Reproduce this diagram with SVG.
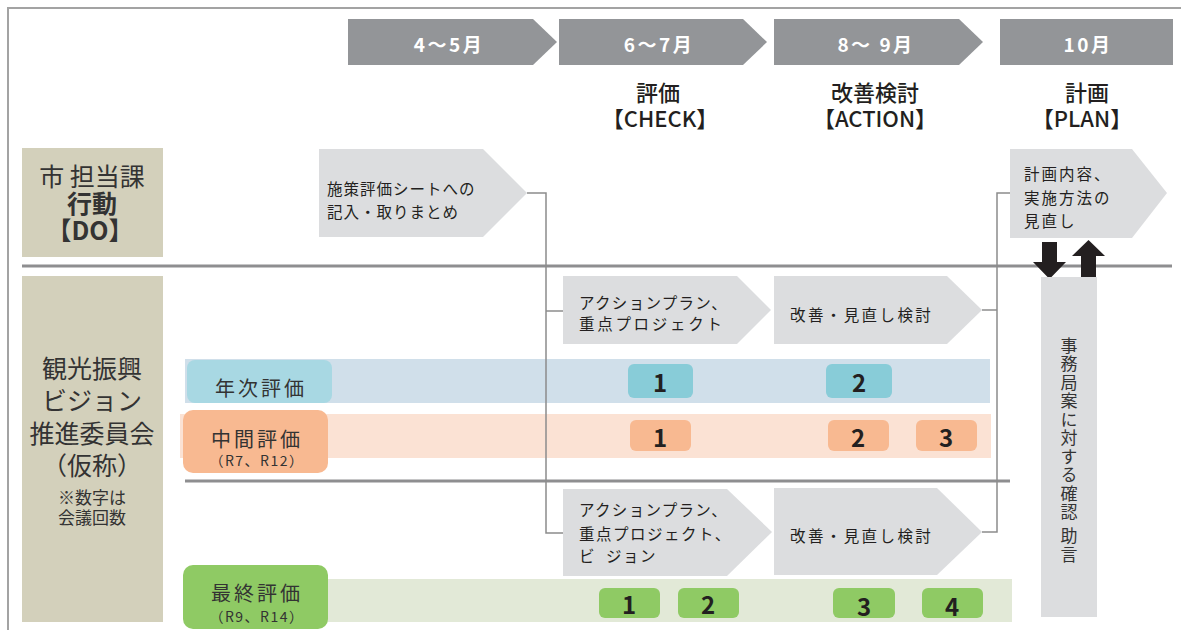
<svg xmlns="http://www.w3.org/2000/svg" width="1181" height="630" viewBox="0 0 1181 630">
<style>
text { font-family: "Noto Sans CJK JP", "Noto Sans", sans-serif; fill: #231f20; dominant-baseline: central; }
.hdr { fill: #939598; }
.hdrt { fill: #ffffff; font-size: 19px; font-weight: 700; text-anchor: middle; letter-spacing: 2.5px; }
.phase { font-size: 22px; font-weight: 500; text-anchor: middle; }
.proc { fill: #dcdddf; }
.pt { font-size: 15.5px; }
.tan { fill: #d3d0bb; }
.lt { font-size: 25px; text-anchor: middle; fill: #333333; }
.note { font-size: 17px; }
.sep { stroke: #8e8e90; stroke-width: 3; fill: none; }
.con { stroke: #8c8c8c; stroke-width: 1.5; fill: none; }
.frame { stroke: #a3a3a3; stroke-width: 2; fill: none; }
.num { font-size: 24px; font-weight: 700; text-anchor: middle; }
.pill { font-size: 20px; text-anchor: middle; letter-spacing: 3px; fill: #333333; }
.sub { font-size: 14px; letter-spacing: 1.5px; }
.b-nen { fill: #d0dfea; } .p-nen { fill: #a8d8e3; } .k-nen { fill: #88ccd8; }
.b-chu { fill: #fbe2d4; } .p-chu { fill: #f8b991; }
.b-sai { fill: #e2e9d7; } .p-sai { fill: #8fca64; }
.vt { font-size: 17px; fill: #333333; writing-mode: vertical-rl; letter-spacing: 1.5px; }
</style>

<!-- frame -->
<path class="frame" d="M8,630 V8 H1181"/>

<!-- header timeline -->
<g id="hdr-4-5">
  <path class="hdr" d="M348,19 H533 L557,42 L533,65 H348 Z"/>
  <text class="hdrt" x="449" y="43">4～5月</text>
</g>
<g id="hdr-6-7">
  <path class="hdr" d="M559,19 H743 L767,42 L743,65 H559 Z"/>
  <text class="hdrt" x="659" y="43">6～7月</text>
</g>
<g id="hdr-8-9">
  <path class="hdr" d="M774,19 H959 L983,42 L959,65 H774 Z"/>
  <text class="hdrt" x="876" y="43">8～ 9月</text>
</g>
<g id="hdr-10">
  <rect class="hdr" x="1000" y="19" width="173" height="46"/>
  <text class="hdrt" x="1088" y="43">10月</text>
</g>

<g id="phase-check">
  <text class="phase"><tspan x="658" y="91">評価</tspan><tspan x="660" y="117">【CHECK】</tspan></text>
</g>
<g id="phase-action">
  <text class="phase"><tspan x="875" y="91">改善検討</tspan><tspan x="875" y="117">【ACTION】</tspan></text>
</g>
<g id="phase-plan">
  <text class="phase"><tspan x="1087" y="91">計画</tspan><tspan x="1082" y="117">【PLAN】</tspan></text>
</g>

<!-- separators -->
<line class="sep" x1="22" y1="266" x2="1172" y2="266"/>
<line class="sep" x1="185" y1="481" x2="1010" y2="481"/>

<!-- left row headers -->
<g id="row-do">
  <rect class="tan" x="22" y="148" width="141" height="109"/>
  <text class="lt"><tspan x="92" y="175">市 担当課</tspan><tspan x="92" y="202" font-weight="700">行動</tspan><tspan x="90" y="229" font-weight="700">【DO】</tspan></text>
</g>
<g id="row-committee">
  <rect class="tan" x="22" y="276" width="141" height="346"/>
  <text class="lt"><tspan x="92" y="367">観光振興</tspan><tspan x="92" y="399">ビジョン</tspan><tspan x="92" y="432">推進委員会</tspan><tspan x="92" y="464">（仮称）</tspan><tspan class="note" x="92" y="496">※数字は</tspan><tspan class="note" x="92" y="516">会議回数</tspan></text>
</g>

<!-- bands -->
<g id="band-nenji">
  <rect class="b-nen" x="185" y="359" width="805" height="44"/>
  <rect class="p-nen" x="187" y="360" width="145" height="43" rx="8"/>
  <text class="pill" x="261" y="387">年次評価</text>
  <rect class="k-nen" x="628" y="364" width="65" height="34" rx="6"/>
  <text class="num" x="660" y="381">1</text>
  <rect class="k-nen" x="826" y="364" width="66" height="34" rx="6"/>
  <text class="num" x="859" y="381">2</text>
</g>
<g id="band-chukan">
  <rect class="b-chu" x="180" y="414" width="811" height="44"/>
  <rect class="p-chu" x="183" y="410" width="145" height="63" rx="10"/>
  <text class="pill"><tspan x="257" y="438">中間評価</tspan><tspan class="sub" x="257" y="460">（R7、R12）</tspan></text>
  <rect class="p-chu" x="630" y="420" width="61" height="31" rx="6"/>
  <text class="num" x="660" y="436">1</text>
  <rect class="p-chu" x="828" y="420" width="61" height="31" rx="6"/>
  <text class="num" x="858" y="436">2</text>
  <rect class="p-chu" x="916" y="420" width="61" height="31" rx="6"/>
  <text class="num" x="946" y="436">3</text>
</g>
<g id="band-saishu">
  <rect class="b-sai" x="185" y="579" width="827" height="43"/>
  <rect class="p-sai" x="183" y="565" width="145" height="64" rx="10"/>
  <text class="pill"><tspan x="257" y="592">最終評価</tspan><tspan class="sub" x="257" y="616">（R9、R14）</tspan></text>
  <rect class="p-sai" x="599" y="588" width="61" height="30" rx="6"/>
  <text class="num" x="629" y="603">1</text>
  <rect class="p-sai" x="678" y="588" width="61" height="30" rx="6"/>
  <text class="num" x="708" y="603">2</text>
  <rect class="p-sai" x="833" y="588" width="62" height="30" rx="6"/>
  <text class="num" x="864" y="605">3</text>
  <rect class="p-sai" x="922" y="588" width="61" height="30" rx="6"/>
  <text class="num" x="952" y="605">4</text>
</g>

<!-- connectors -->
<g id="connectors">
  <path class="con" d="M527,193 H546 V533 H563"/>
  <path class="con" d="M546,311 H563"/>
  <path class="con" d="M982,310 H997"/>
  <path class="con" d="M982,532 H997 V193 H1010"/>
</g>

<!-- process nodes -->
<g id="node-shisaku">
  <path class="proc" d="M319,149 H483 L527,193 L483,237 H319 Z"/>
  <text class="pt" letter-spacing="1"><tspan x="327" y="188">施策評価シートへの</tspan><tspan x="327" y="211">記入・取りまとめ</tspan></text>
</g>
<g id="node-action1">
  <path class="proc" d="M563,276 H737 L771,310 L737,344 H563 Z"/>
  <text class="pt"><tspan x="579" y="302" letter-spacing="1.3">アクションプラン、</tspan><tspan x="579" y="323" letter-spacing="2.7">重点プロジェクト</tspan></text>
</g>
<g id="node-kaizen1">
  <path class="proc" d="M774,276 H947 L982,310 L947,344 H774 Z"/>
  <text class="pt" x="790" y="314" letter-spacing="2.4">改善・見直し検討</text>
</g>
<g id="node-action2">
  <path class="proc" d="M563,489 H727 L772,532 L727,576 H563 Z"/>
  <text class="pt"><tspan x="579" y="509" letter-spacing="1.3">アクションプラン、</tspan><tspan x="579" y="533" letter-spacing="1.5">重点プロジェクト、</tspan><tspan x="579" y="555">ビ</tspan><tspan x="606" y="555" letter-spacing="1.5">ジョン</tspan></text>
</g>
<g id="node-kaizen2">
  <path class="proc" d="M774,488 H937 L982,532 L937,575 H774 Z"/>
  <text class="pt" x="790" y="535" letter-spacing="2.4">改善・見直し検討</text>
</g>
<g id="node-keikaku">
  <path class="proc" d="M1010,149 H1132 L1167,193 L1132,238 H1010 Z"/>
  <text class="pt" font-size="16" letter-spacing="2"><tspan x="1024" y="173">計画内容、</tspan><tspan x="1024" y="197">実施方法の</tspan><tspan x="1024" y="220">見直し</tspan></text>
</g>

<!-- black arrows -->
<g id="arrow-down">
  <path fill="#231f20" d="M1042,242 H1057 V262 H1066 L1049.5,279 L1033,262 H1042 Z"/>
</g>
<g id="arrow-up">
  <path fill="#231f20" d="M1088.5,240 L1105,256 H1096 V278 H1081 V256 H1072 Z"/>
</g>

<!-- secretariat node -->
<g id="node-jimukyoku">
  <rect fill="#dcdddf" x="1041" y="277" width="56" height="340"/>
  <text class="vt" x="1069" y="337">事務局案に対する確認 助言</text>
</g>
</svg>
